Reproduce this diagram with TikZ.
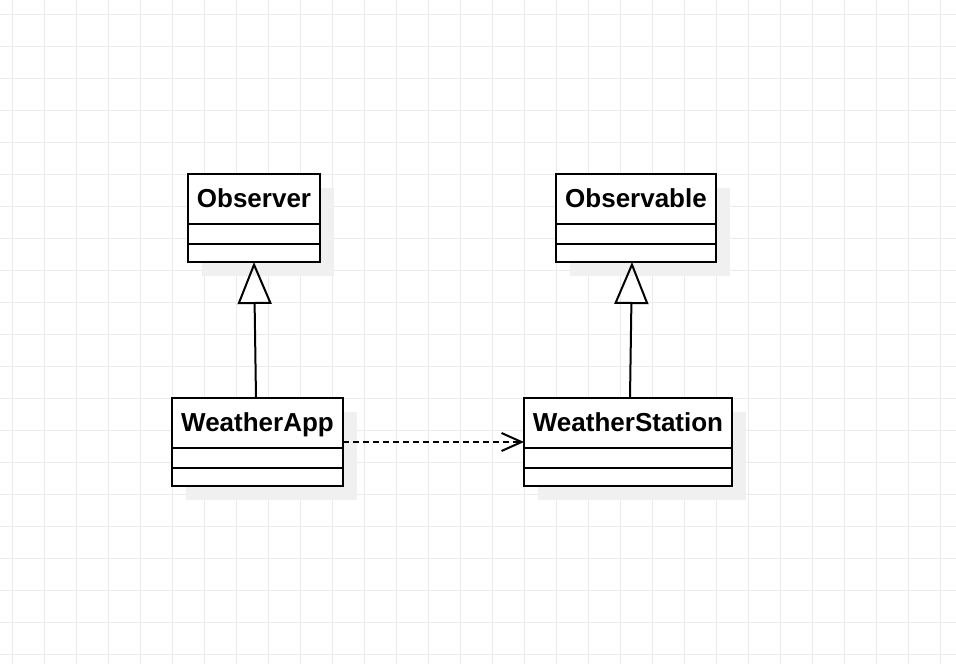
\documentclass[tikz,border=0pt]{standalone}
\usepackage{fontspec}
\setmainfont{Liberation Sans}
\usetikzlibrary{arrows.meta}
\begin{document}
\begin{tikzpicture}[x=1pt,y=-1pt,
    classname/.style={draw,line width=2pt,fill=white,rectangle,minimum height=50pt,anchor=north west,inner sep=0pt,outer sep=0pt,text height=19.5pt,text depth=3.5pt,font=\fontsize{26}{30}\selectfont\bfseries},
    classpart/.style={draw,line width=2pt,fill=white,rectangle,inner sep=0pt,outer sep=0pt,anchor=north},
    shade/.style={fill=black!6,draw=none}]
        %% Canvas and grid
        \useasboundingbox (0,0) rectangle (956,664);
        \fill[white] (0,0) rectangle (956,664);
        \foreach \gx in {12,44,...,940} \draw[black!8,line width=1pt] (\gx,0) -- (\gx,664);
        \foreach \gy in {14,46,...,654} \draw[black!8,line width=1pt] (0,\gy) -- (956,\gy);
        %% Shadows
        \fill[shade] (202,188) rectangle (334,276);
        \fill[shade] (570,188) rectangle (730,276);
        \fill[shade] (186,412) rectangle (357,500);
        \fill[shade] (538,412) rectangle (746,500);
        %% Classes
        \node[classname,minimum width=132pt] (observer) at (188,174) {Observer};
        \node[classpart,minimum width=132pt,minimum height=20pt] (observerA) at (observer.south) {};
        \node[classpart,minimum width=132pt,minimum height=18pt] (observerB) at (observerA.south) {};
        \node[classname,minimum width=160pt] (observable) at (556,174) {Observable};
        \node[classpart,minimum width=160pt,minimum height=20pt] (observableA) at (observable.south) {};
        \node[classpart,minimum width=160pt,minimum height=18pt] (observableB) at (observableA.south) {};
        \node[classname,minimum width=171pt] (app) at (172,398) {WeatherApp};
        \node[classpart,minimum width=171pt,minimum height=20pt] (appA) at (app.south) {};
        \node[classpart,minimum width=171pt,minimum height=18pt] (appB) at (appA.south) {};
        \node[classname,minimum width=208pt] (station) at (524,398) {WeatherStation};
        \node[classpart,minimum width=208pt,minimum height=20pt] (stationA) at (station.south) {};
        \node[classpart,minimum width=208pt,minimum height=18pt] (stationB) at (stationA.south) {};
        %% Inheritance
        \draw[line width=2pt,-{Triangle[open,length=42pt,width=34pt,line width=2pt]}] ([xshift=-1.5pt]app.north) -- (observerB.south);
        \draw[line width=2pt,-{Triangle[open,length=42pt,width=34pt,line width=2pt]}] ([xshift=2pt]station.north) -- ([xshift=-4pt]observableB.south);
        %% Dependency
        \draw[line width=2pt,dash pattern=on 6pt off 4pt,-{Straight Barb[length=20pt,width=18pt,line width=2pt]}] ([yshift=6pt]app.south east) -- ([yshift=6pt]station.south west);
    \end{tikzpicture}
\end{document}
